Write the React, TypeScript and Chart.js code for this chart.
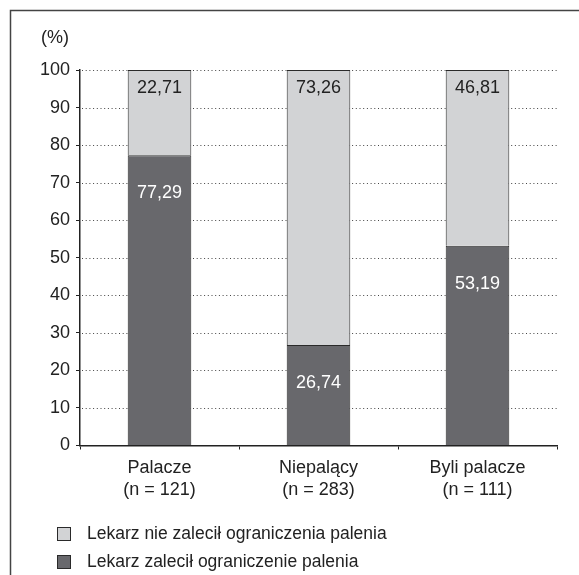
import React, { useEffect, useRef } from "react";
import { Chart, registerables } from "chart.js";

Chart.register(...registerables);

const categories = ["Palacze", "Niepalący", "Byli palacze"];
const sampleSizes = ["(n = 121)", "(n = 283)", "(n = 111)"];
const recommended = [77.29, 26.74, 53.19];
const notRecommended = [22.71, 73.26, 46.81];
const yTicks = [0, 10, 20, 30, 40, 50, 60, 70, 80, 90, 100];
const seriesNames = [
  "Lekarz zalecił ograniczenie palenia",
  "Lekarz nie zalecił ograniczenia palenia",
];
const unitLabel = "(%)";

const FONT = "'Liberation Sans', Arial, sans-serif";
const DARK = "#68686c";
const LIGHT = "#d2d3d5";
const EDGE = "#2a2a2a";

const fmt = (v: number) => v.toFixed(2).replace(".", ",");

const extrasPlugin = {
  id: "extras",
  beforeDatasetsDraw(chart: any) {
    const ctx = chart.ctx;
    const ys = chart.scales.y;
    const area = chart.chartArea;
    ctx.save();
    ctx.strokeStyle = "#444";
    ctx.lineWidth = 1;
    ctx.setLineDash([1, 2.7]);
    yTicks.forEach((v) => {
      if (v === 0) return;
      const py = Math.round(ys.getPixelForValue(v)) + 0.5;
      ctx.beginPath();
      ctx.moveTo(area.left + 2, py);
      ctx.lineTo(area.right, py);
      ctx.stroke();
    });
    ctx.restore();
  },
  afterDraw(chart: any) {
    const ctx = chart.ctx;
    ctx.save();
    // frame
    ctx.strokeStyle = "#444";
    ctx.lineWidth = 1.5;
    ctx.beginPath();
    ctx.moveTo(10.5, chart.height);
    ctx.lineTo(10.5, 10.5);
    ctx.lineTo(chart.width, 10.5);
    ctx.stroke();
    // unit label
    ctx.fillStyle = "#222";
    ctx.font = `18px ${FONT}`;
    ctx.textAlign = "center";
    ctx.textBaseline = "middle";
    ctx.fillText(unitLabel, 55, 38);
    // legend (reverse order)
    const ds = chart.data.datasets;
    ctx.font = `17.5px ${FONT}`;
    ctx.textAlign = "left";
    let y = 534;
    for (let i = ds.length - 1; i >= 0; i--) {
      ctx.fillStyle = ds[i].backgroundColor;
      ctx.fillRect(57.5, y - 6.5, 13, 13);
      ctx.strokeStyle = EDGE;
      ctx.lineWidth = 1;
      ctx.strokeRect(57.5, y - 6.5, 13, 13);
      ctx.fillStyle = "#222";
      ctx.fillText(ds[i].label, 87, y);
      y += 28;
    }
    ctx.restore();
  },
  afterDatasetsDraw(chart: any) {
    const ctx = chart.ctx;
    ctx.save();
    ctx.font = `18px ${FONT}`;
    ctx.textAlign = "center";
    ctx.textBaseline = "middle";
    chart.data.datasets.forEach((d: any, di: number) => {
      const meta = chart.getDatasetMeta(di);
      meta.data.forEach((el: any, i: number) => {
        const v = d.data[i];
        const off = di === 0 ? 38 : 18;
        ctx.fillStyle = di === 0 ? "#ffffff" : "#222222";
        ctx.fillText(fmt(v), el.x, el.y + off);
      });
    });
    ctx.restore();
  },
};

export default function App() {
  const ref = useRef<HTMLCanvasElement>(null);
  useEffect(() => {
    if (!ref.current) return;
    const chart = new Chart(ref.current, {
      type: "bar",
      data: {
        labels: categories.map((c, i) => [c, sampleSizes[i]]),
        datasets: [
          {
            label: seriesNames[0],
            data: recommended,
            backgroundColor: DARK,
            borderColor: EDGE,
            borderWidth: 1,
            barPercentage: 0.4,
            categoryPercentage: 1,
          },
          {
            label: seriesNames[1],
            data: notRecommended,
            backgroundColor: LIGHT,
            borderColor: EDGE,
            borderWidth: 1,
            barPercentage: 0.4,
            categoryPercentage: 1,
          },
        ],
      },
      options: {
        responsive: false,
        animation: false,
        devicePixelRatio: 1,
        layout: { padding: { top: 70, right: 22, left: 0, bottom: 0 } },
        plugins: {
          legend: { display: false },
          tooltip: { enabled: false },
        },
        scales: {
          x: {
            stacked: true,
            afterFit: (s: any) => {
              s.height = 129.5;
            },
            grid: {
              display: true,
              drawOnChartArea: false,
              drawTicks: true,
              tickLength: 4,
              offset: true,
              color: "#222",
              tickColor: "#222",
            },
            border: { display: true, color: "#222", width: 1.5 },
            ticks: {
              color: "#222",
              font: { family: FONT, size: 18, lineHeight: 1.22 },
              padding: 8,
              maxRotation: 0,
            },
          },
          y: {
            stacked: true,
            min: 0,
            max: 100,
            afterFit: (s: any) => {
              s.width = 80;
            },
            afterBuildTicks: (s: any) => {
              s.ticks = yTicks.map((v) => ({ value: v }));
            },
            grid: {
              display: true,
              drawOnChartArea: false,
              tickColor: "#222",
              tickLength: 4,
              lineWidth: 1,
            },
            border: { display: true, color: "#222", width: 1.5 },
            ticks: {
              color: "#222",
              font: { family: FONT, size: 18 },
              padding: 6,
            },
          },
        },
      },
      plugins: [extrasPlugin],
    });
    return () => chart.destroy();
  }, []);
  return (
    <div style={{ position: "fixed", left: 0, top: 0, width: 579, height: 575, background: "#fff" }}>
      <canvas ref={ref} width={579} height={575} style={{ display: "block" }} />
    </div>
  );
}
